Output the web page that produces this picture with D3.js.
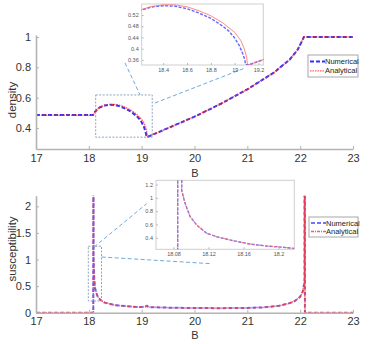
<!DOCTYPE html>
<html><head><meta charset="utf-8">
<script src="https://cdn.jsdelivr.net/npm/d3@7"></script>
<style>body{margin:0;background:#fff}svg{display:block;font-family:"Liberation Sans",Arial,sans-serif}</style>
</head><body><svg id="c" width="374" height="344"></svg>
<script>
// ---------- data ----------
const xTicks = [17,18,19,20,21,22,23];
const densTicks = [0.4,0.6,0.8,1];
const suscTicks = [0,0.5,1,1.5,2];
const densInsetXTicks = [18.4,18.6,18.8,19,19.2];
const densInsetYTicks = [0.36,0.4,0.44,0.48,0.52];
const suscInsetXTicks = [18.08,18.12,18.16,18.2];
const suscInsetYTicks = [0.4,0.6,0.8,1,1.2];
const seriesNames = ["Numerical","Analytical"];

const densNumB = [17,18.08,18.085,18.1,18.15,18.2,18.3,18.4,18.5,18.6,18.7,18.8,18.9,18.95,19.0,19.04,19.07,19.085,19.09,19.1,19.12,19.5,20,20.5,21,21.5,21.8,21.95,22.03,22.07,23];
const densNumV = [0.486,0.486,0.487,0.50,0.52,0.535,0.548,0.553,0.551,0.542,0.527,0.508,0.48,0.463,0.438,0.41,0.38,0.36,0.345,0.343,0.343,0.40,0.475,0.56,0.655,0.765,0.85,0.915,0.97,1.0,1.0];
const densAnaB = [17,18.08,18.085,18.1,18.2,18.3,18.4,18.5,18.6,18.7,18.8,18.9,19.0,19.05,19.08,19.1,19.105,19.11,19.12,19.5,20,20.5,21,21.5,21.8,21.95,22.03,22.07,23];
const densAnaV = [0.484,0.484,0.485,0.50,0.537,0.55,0.556,0.556,0.549,0.535,0.517,0.492,0.458,0.43,0.40,0.37,0.35,0.343,0.343,0.40,0.475,0.56,0.655,0.765,0.85,0.915,0.97,1.0,1.0];

const suscB = [17,18.0848,18.0848,18.0894,18.0894,18.0931,18.0989,18.1065,18.118,18.1294,18.1483,18.1674,18.1865,18.2055,18.2169,18.3,18.5,18.8,19.0,19.08,19.1,19.13,19.5,20,20.5,21,21.3,21.6,21.8,21.9,22.0,22.05,22.075,22.082,22.082,22.09,22.09,23];
const suscNumV = [0,0,5,5,1.11,0.92,0.72,0.59,0.466,0.415,0.355,0.305,0.275,0.256,0.24,0.19,0.14,0.115,0.105,0.12,0.13,0.105,0.095,0.088,0.085,0.09,0.10,0.13,0.18,0.22,0.30,0.40,0.55,0.6,5,5,0,0];
const suscAnaV = [0,0,5,5,1.11,0.92,0.72,0.59,0.466,0.415,0.355,0.305,0.275,0.256,0.24,0.19,0.14,0.115,0.105,0.115,0.125,0.105,0.095,0.088,0.085,0.09,0.10,0.13,0.18,0.22,0.30,0.40,0.55,0.6,5,5,0,0];

// zoom boxes & connectors (data coordinates)
const densBox = [18.13,19.2,0.34,0.618];
const densConnectors = [[18.685,0.829,18.97,0.618],[19.25,0.565,20.96,0.796]];
const suscBox = [17.99,18.24,0.22,1.25];
const suscConnectors = [[18.10,1.235,19.095,2.05],[18.244,1.047,20.326,0.921]];

// ---------- drawing ----------
const svg = d3.select("#c");
const AX = "#b3b3b3", TXT = "#333";
const numStyleTop = {stroke:"#1a1aff", w:2, dash:"4,2", op:0.9};
const anaStyleTop = {stroke:"#ff2a2a", w:1.4, dash:"1.5,1", op:0.75};
const numStyleBot = {stroke:"#5a5aff", w:2, dash:"4,2", op:0.85};
const anaStyleBot = {stroke:"#ff3030", w:1.5, dash:"3,1,1,1", op:0.8};

const xMain = d3.scaleLinear().domain([17,23]).range([36,353]);
const yDens = d3.scaleLinear().domain([0.262,1.013]).range([149,35]);
const ySusc = d3.scaleLinear().domain([0,2.2]).range([312.7,195.7]);

let clipId = 0;
function clip(x0,y0,w,h){
  const id="cl"+(clipId++);
  svg.append("clipPath").attr("id",id).append("rect").attr("x",x0).attr("y",y0).attr("width",w).attr("height",h);
  return "url(#"+id+")";
}
function drawSeries(g,xs,ys,xv,yv,st){
  const pts = xv.map((b,i)=>[b,yv[i]]);
  g.append("path").datum(pts)
   .attr("d",d3.line().x(d=>xs(d[0])).y(d=>ys(d[1])))
   .attr("fill","none").attr("stroke",st.stroke).attr("stroke-width",st.w)
   .attr("stroke-dasharray",st.dash).attr("stroke-opacity",st.op);
}
function mainAxes(ys,yticks,yfmt,ylabel,ylabelY,xlabelY){
  const r = ys.range();
  const gx = svg.append("g").attr("transform",`translate(0,${r[0]})`)
    .call(d3.axisBottom(xMain).tickValues(xTicks).tickSizeInner(-3).tickSizeOuter(0).tickPadding(5).tickFormat(d3.format("d")));
  const gy = svg.append("g").attr("transform",`translate(${xMain.range()[0]},0)`)
    .call(d3.axisLeft(ys).tickValues(yticks).tickSizeInner(-3).tickSizeOuter(0).tickPadding(5).tickFormat(yfmt));
  [gx,gy].forEach(g=>{
    g.select(".domain").attr("stroke",AX).attr("stroke-width",1.6);
    g.selectAll(".tick line").attr("stroke",AX).attr("stroke-width",1);
    g.selectAll("text").attr("fill",TXT).attr("font-size",11).attr("font-family","Liberation Sans, Arial, sans-serif");
  });
  svg.append("text").attr("transform",`translate(16,${ylabelY}) rotate(-90)`).attr("text-anchor","middle")
    .attr("font-size",11.5).attr("fill",TXT).text(ylabel);
  svg.append("text").attr("x",195).attr("y",xlabelY).attr("text-anchor","middle")
    .attr("font-size",11).attr("fill",TXT).text("B");
}
function zoomBox(xs,ys,box,conns){
  svg.append("rect").attr("x",xs(box[0])).attr("y",ys(box[3]))
    .attr("width",xs(box[1])-xs(box[0])).attr("height",ys(box[2])-ys(box[3]))
    .attr("fill","none").attr("stroke","#8ea4bd").attr("stroke-width",1).attr("stroke-dasharray","2,1.5");
  conns.forEach(c=>{
    svg.append("line").attr("x1",xs(c[0])).attr("y1",ys(c[1])).attr("x2",xs(c[2])).attr("y2",ys(c[3]))
      .attr("stroke","#6fa8dc").attr("stroke-width",1).attr("stroke-dasharray","4,2.5");
  });
}
function inset(xs,ys,xt,yt,xfmt,yfmt,series){
  const [x0,x1]=xs.range(), [y1,y0]=ys.range();
  svg.append("rect").attr("x",x0).attr("y",y0).attr("width",x1-x0).attr("height",y1-y0)
    .attr("fill","#fff").attr("stroke","#cfcfcf").attr("stroke-width",1);
  const g = svg.append("g").attr("clip-path",clip(x0,y0,x1-x0,y1-y0));
  series.forEach(s=>drawSeries(g,xs,ys,s[0],s[1],s[2]));
  const gx = svg.append("g").attr("transform",`translate(0,${y1})`)
    .call(d3.axisBottom(xs).tickValues(xt).tickSizeInner(-2).tickSizeOuter(0).tickPadding(3).tickFormat(xfmt));
  const gy = svg.append("g").attr("transform",`translate(${x0},0)`)
    .call(d3.axisLeft(ys).tickValues(yt).tickSizeInner(-2).tickSizeOuter(0).tickPadding(3).tickFormat(yfmt));
  [gx,gy].forEach(g=>{
    g.select(".domain").remove();
    g.selectAll(".tick line").attr("stroke","#bbb");
    g.selectAll("text").attr("fill","#555").attr("font-size",5.5);
  });
}
function legend(x,y,w,h,stN,stA){
  svg.append("rect").attr("x",x).attr("y",y).attr("width",w).attr("height",h)
    .attr("fill","#fff").attr("stroke","#a8a8a8").attr("stroke-width",1);
  [stN,stA].forEach((st,i)=>{
    const yy = y+h*(0.3+0.42*i);
    svg.append("line").attr("x1",x+2).attr("x2",x+17).attr("y1",yy).attr("y2",yy)
      .attr("stroke",st.stroke).attr("stroke-width",st.w).attr("stroke-dasharray",st.dash).attr("stroke-opacity",st.op);
    svg.append("text").attr("x",x+17).attr("y",yy+2.5).attr("font-size",7.5).attr("fill","#222").text(seriesNames[i]);
  });
}
const plain = d => String(+d.toFixed(4));

// ---- top panel ----
{
  const g = svg.append("g").attr("clip-path",clip(36,35,317,114));
  drawSeries(g,xMain,yDens,densNumB,densNumV,numStyleTop);
  drawSeries(g,xMain,yDens,densAnaB,densAnaV,anaStyleTop);
  mainAxes(yDens,densTicks,d=>d===1?"1":d3.format(".1f")(d),"density",100,177);
  zoomBox(xMain,yDens,densBox,densConnectors);
  const xi = d3.scaleLinear().domain([18.22,19.24]).range([141.7,263.3]);
  const yi = d3.scaleLinear().domain([0.342,0.559]).range([65,4]);
  inset(xi,yi,densInsetXTicks,densInsetYTicks,plain,plain,
    [[densNumB,densNumV,{stroke:"#4040ff",w:1.4,dash:"3,1.5",op:0.8}],[densAnaB,densAnaV,{stroke:"#ff6b6b",w:1,dash:"none",op:0.8}]]);
  legend(308,55,50,22,numStyleTop,anaStyleTop);
}
// ---- bottom panel ----
{
  const g = svg.append("g").attr("clip-path",clip(36,195.7,317,117));
  drawSeries(g,xMain,ySusc,suscB,suscNumV,numStyleBot);
  drawSeries(g,xMain,ySusc,suscB,suscAnaV,anaStyleBot);
  mainAxes(ySusc,suscTicks,plain,"susceptibility",249,339);
  zoomBox(xMain,ySusc,suscBox,suscConnectors);
  const xi = d3.scaleLinear().domain([18.06,18.218]).range([156,294.3]);
  const yi = d3.scaleLinear().domain([0.226,1.263]).range([249.3,180.3]);
  inset(xi,yi,suscInsetXTicks,suscInsetYTicks,plain,plain,
    [[suscB,suscNumV,{stroke:"#5a5aff",w:1.4,dash:"3,1.5",op:0.85}],[suscB,suscAnaV,{stroke:"#ff6b6b",w:1.1,dash:"2,1",op:0.8}]]);
  legend(309,217,49,20,numStyleBot,anaStyleBot);
}
</script></body></html>
